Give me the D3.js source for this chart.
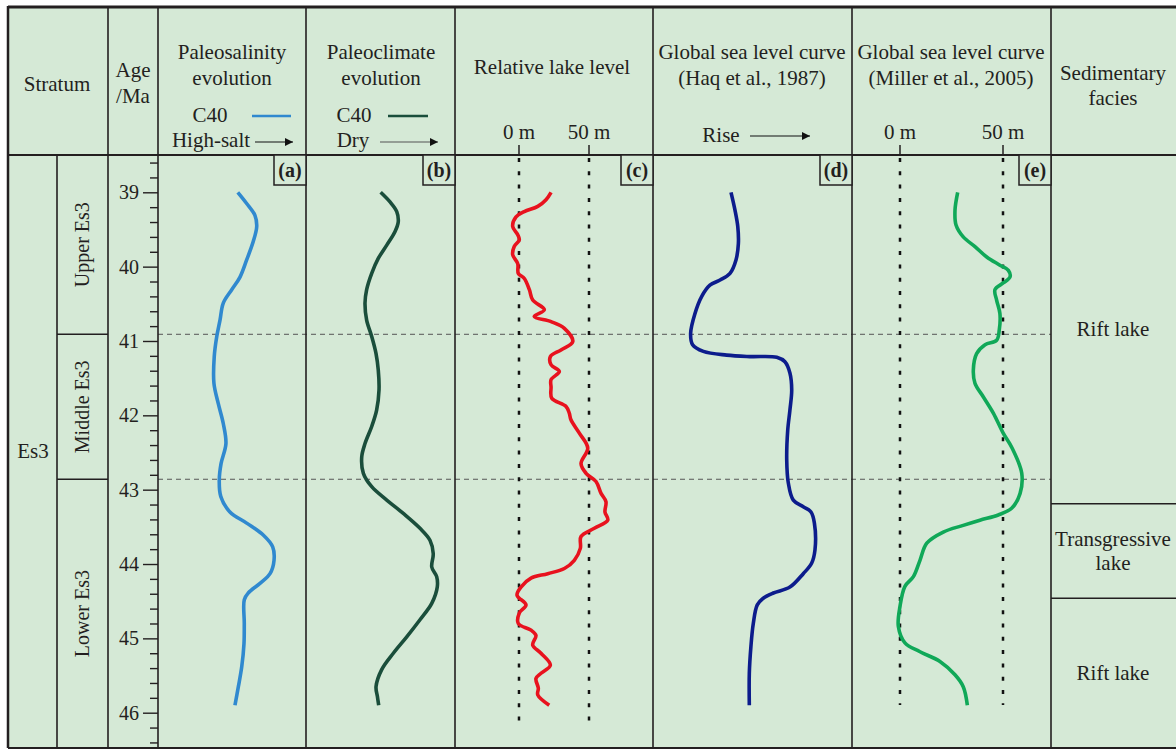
<!DOCTYPE html>
<html lang="en">
<head>
  <meta charset="UTF-8">
  <title>Es3 lake level chart</title>
  <style>
    body { margin: 0; background: #fff; }
    text { font-family: "Liberation Serif", "Times New Roman", serif; fill: #231f20; }
  </style>
</head>
<body>
<div id="chart"></div>
<script src="https://d3js.org/d3.v7.js"></script>
<script type="text/javascript">

  // ages (Ma) and values for each curve
  var salinityAge = [39.00, 39.15, 39.31, 39.46, 39.66, 39.91, 40.14, 40.31, 40.49, 40.72, 40.94, 41.21, 41.57, 41.84, 42.11, 42.38, 42.65, 42.87, 43.09, 43.30, 43.45, 43.61, 43.77, 43.95, 44.13, 44.26, 44.39, 44.48, 44.80, 45.07, 45.38, 45.65, 45.90];
  var salinityVal = [53.9, 59.9, 65.5, 66.7, 64.4, 59.9, 55.4, 49.8, 44.1, 41.9, 39.7, 38.0, 37.8, 40.7, 44.1, 45.9, 42.6, 41.4, 42.4, 48.6, 59.9, 71.1, 77.5, 78.4, 75.7, 68.9, 61.0, 58.3, 58.3, 58.1, 56.6, 54.3, 52.0];

  var climateAge = [39.00, 39.13, 39.26, 39.40, 39.53, 39.71, 39.89, 40.09, 40.31, 40.49, 40.72, 40.94, 41.17, 41.39, 41.66, 41.93, 42.15, 42.38, 42.56, 42.78, 42.96, 43.14, 43.32, 43.52, 43.68, 43.86, 44.04, 44.17, 44.31, 44.53, 44.75, 44.98, 45.20, 45.42, 45.65, 45.78, 45.90];
  var climateVal = [50.1, 56.4, 60.9, 61.9, 59.7, 54.2, 48.5, 44.1, 40.7, 39.6, 40.7, 44.1, 47.0, 48.5, 49.0, 47.4, 44.1, 39.6, 37.4, 38.5, 44.1, 54.2, 65.3, 76.5, 83.2, 85.4, 84.4, 87.7, 88.1, 84.4, 76.5, 67.6, 58.6, 50.8, 47.0, 47.9, 48.8];

  var lakeAge = [39.00, 39.10, 39.19, 39.26, 39.33, 39.46, 39.57, 39.64, 39.73, 39.84, 39.96, 40.09, 40.16, 40.31, 40.45, 40.58, 40.67, 40.74, 40.83, 41.01, 41.12, 41.21, 41.32, 41.41, 41.52, 41.62, 41.77, 41.88, 41.97, 42.06, 42.24, 42.44, 42.65, 42.78, 42.89, 43.05, 43.16, 43.30, 43.41, 43.52, 43.63, 43.79, 43.95, 44.06, 44.13, 44.19, 44.31, 44.42, 44.55, 44.66, 44.80, 44.89, 44.96, 45.09, 45.20, 45.36, 45.47, 45.54, 45.67, 45.76, 45.90];
  var lakeVal = [22.9, 19.3, 13.4, 3.8, -2.1, -4.5, -0.9, 0.2, -3.4, -4.5, -0.9, -0.5, 3.8, 7.4, 9.8, 18.1, 10.9, 22.9, 32.4, 38.4, 30.0, 22.4, 22.9, 28.8, 22.9, 22.9, 23.4, 33.6, 35.9, 37.1, 43.1, 49.1, 44.3, 47.9, 55.0, 58.6, 62.1, 61.4, 63.4, 53.8, 44.3, 43.8, 39.5, 32.4, 20.5, 8.6, 1.4, -1.4, 5.0, 0.2, -0.5, 8.6, 12.1, 9.8, 15.7, 22.4, 15.7, 12.1, 13.8, 13.4, 21.6];

  var haqAge = [39.00, 39.24, 39.46, 39.69, 39.91, 40.09, 40.18, 40.25, 40.40, 40.63, 40.90, 41.05, 41.14, 41.19, 41.21, 41.22, 41.28, 41.43, 41.66, 41.93, 42.20, 42.60, 42.91, 43.14, 43.23, 43.30, 43.45, 43.81, 43.99, 44.13, 44.31, 44.39, 44.46, 44.55, 44.80, 45.11, 45.47, 45.90];
  var haqVal = [39.2, 41.2, 42.6, 42.9, 41.7, 38.7, 33.7, 28.6, 24.5, 21.1, 18.9, 19.9, 25.3, 37.0, 48.7, 62.2, 66.3, 68.8, 69.7, 68.8, 67.7, 67.2, 68.0, 70.5, 75.5, 79.4, 81.1, 81.4, 79.7, 75.5, 68.8, 60.5, 55.4, 52.4, 50.4, 49.2, 48.4, 48.4];

  var millerAge = [39.00, 39.24, 39.44, 39.60, 39.73, 39.87, 39.98, 40.05, 40.14, 40.22, 40.31, 40.45, 40.63, 40.85, 40.99, 41.05, 41.17, 41.39, 41.57, 41.75, 41.97, 42.24, 42.44, 42.78, 43.05, 43.25, 43.34, 43.41, 43.48, 43.57, 43.72, 43.95, 44.17, 44.30, 44.57, 44.84, 45.06, 45.18, 45.31, 45.49, 45.65, 45.90];
  var millerVal = [28.0, 26.7, 27.2, 30.7, 36.4, 42.1, 48.5, 52.6, 53.4, 50.1, 46.1, 46.9, 48.5, 48.2, 46.9, 41.3, 37.2, 35.6, 36.4, 40.4, 45.3, 50.1, 54.4, 59.1, 58.3, 54.2, 47.7, 38.8, 30.7, 21.0, 13.0, 9.7, 6.5, 2.4, 0.0, -0.8, 2.4, 9.7, 19.4, 26.7, 30.7, 32.7];

  var ageTicks = [39, 40, 41, 42, 43, 44, 45, 46];
  var boundaryAges = [40.91, 42.86];        // Upper/Middle, Middle/Lower
  var faciesAges = [43.19, 44.46];
  var strata = ["Upper Es3", "Middle Es3", "Lower Es3"];
  var facies = [["Rift lake"], ["Transgressive", "lake"], ["Rift lake"]];
  var meterTicks = [0, 50];

  var w = 1176, h = 750;
  var yTop = 155, yBot = 748;
  var bg = "#d5e9d6", ink = "#231f20";
  var fs = 21;

  var svg = d3.select("#chart").append("svg")
      .attr("width", w).attr("height", h);

  svg.append("rect").attr("x", 8).attr("y", 7).attr("width", w - 8).attr("height", h - 9)
      .attr("fill", bg);

  var y = d3.scaleLinear().domain([39, 46]).range([192.3, 712.7]);

  // panel columns
  var panels = [
    {id: "a", x0: 158, x1: 306, dom: [0, 100], age: salinityAge, val: salinityVal, color: "#3089cf"},
    {id: "b", x0: 306, x1: 455, dom: [0, 100], age: climateAge, val: climateVal, color: "#1a4e3b"},
    {id: "c", x0: 455, x1: 653, dom: [-45.7, 95.7], age: lakeAge, val: lakeVal, color: "#e8121e"},
    {id: "d", x0: 653, x1: 852, dom: [0, 100], age: haqAge, val: haqVal, color: "#0c1c8c"},
    {id: "e", x0: 852, x1: 1051, dom: [-23.3, 73.3], age: millerAge, val: millerVal, color: "#10a858"}
  ];
  panels.forEach(p => {
    p.x = d3.scaleLinear().domain(p.dom).range([p.x0, p.x1]);
  });

  // dashed boundary lines across panels
  svg.selectAll("line.bound").data(boundaryAges).enter().append("line")
      .attr("x1", 158).attr("x2", 1051)
      .attr("y1", d => y(d)).attr("y2", d => y(d))
      .attr("stroke", "#555").attr("stroke-width", 1).attr("stroke-dasharray", "5,4");

  // dotted reference lines (c) and (e)
  [[panels[2], 727], [panels[4], 705]].forEach(([p, yEnd]) => {
    meterTicks.forEach(m => {
      svg.append("line")
          .attr("x1", p.x(m)).attr("x2", p.x(m))
          .attr("y1", yTop + 3).attr("y2", yEnd)
          .attr("stroke", "#111").attr("stroke-width", 2.5).attr("stroke-dasharray", "4,9.3");
      svg.append("line")
          .attr("x1", p.x(m)).attr("x2", p.x(m))
          .attr("y1", yTop - 10).attr("y2", yTop)
          .attr("stroke", ink).attr("stroke-width", 1.5);
      svg.append("text")
          .attr("x", p.x(m)).attr("y", 139)
          .attr("text-anchor", "middle").style("font-size", fs + "px")
          .text(m + " m");
    });
  });

  // curves
  var line = d3.line().curve(d3.curveCatmullRom.alpha(0.5));
  panels.forEach(p => {
    var pts = p.age.map((a, i) => [p.x(p.val[i]), y(a)]);
    svg.append("path")
        .attr("d", line(pts))
        .attr("fill", "none")
        .attr("stroke", p.color)
        .attr("stroke-width", 3.6)
        .attr("stroke-linejoin", "round");
  });

  // grid lines
  var grid = svg.append("g").attr("stroke", ink).attr("fill", "none");
  [57, 108, 158, 306, 455, 653, 852, 1051].forEach(x => {
    grid.append("line").attr("x1", x).attr("x2", x)
        .attr("y1", x === 57 ? yTop : 7).attr("y2", yBot)
        .attr("stroke-width", 1.6);
  });
  grid.append("line").attr("x1", 8).attr("x2", w).attr("y1", yTop).attr("y2", yTop).attr("stroke-width", 2);
  grid.append("line").attr("x1", 8).attr("x2", w).attr("y1", 7).attr("y2", 7).attr("stroke-width", 3);
  grid.append("line").attr("x1", 8).attr("x2", w).attr("y1", yBot).attr("y2", yBot).attr("stroke-width", 2);
  grid.append("line").attr("x1", 8).attr("x2", 8).attr("y1", 6).attr("y2", yBot).attr("stroke-width", 2.5);
  boundaryAges.forEach(a => {
    grid.append("line").attr("x1", 57).attr("x2", 108).attr("y1", y(a)).attr("y2", y(a)).attr("stroke-width", 1.4);
  });
  faciesAges.forEach(a => {
    grid.append("line").attr("x1", 1051).attr("x2", w).attr("y1", y(a)).attr("y2", y(a)).attr("stroke-width", 1.4);
  });

  // age axis
  var minor = d3.range(38.6, 46.45, 0.2).filter(v => Math.abs(v - Math.round(v)) > 0.05);
  svg.append("g").attr("transform", "translate(158,0)")
      .call(d3.axisLeft(y).tickValues(minor).tickSize(8).tickFormat(""))
      .call(g => g.select(".domain").remove())
      .selectAll("line").attr("stroke", ink).attr("stroke-width", 1.4);
  var ax = svg.append("g").attr("transform", "translate(158,0)")
      .call(d3.axisLeft(y).tickValues(ageTicks).tickSize(15).tickPadding(4).tickFormat(d3.format("d")))
      .call(g => g.select(".domain").remove());
  ax.selectAll("line").attr("stroke", ink).attr("stroke-width", 1.4);
  ax.selectAll("text").style("font-size", "20px").style("font-family", "Liberation Serif").attr("fill", ink);

  // panel tags
  panels.forEach(p => {
    svg.append("rect").attr("x", p.x1 - 32).attr("y", yTop).attr("width", 32).attr("height", 30)
        .attr("fill", bg).attr("stroke", ink).attr("stroke-width", 1.5);
    svg.append("text").attr("x", p.x1 - 16).attr("y", yTop + 22)
        .attr("text-anchor", "middle").style("font-size", "20px").style("font-weight", "bold")
        .text("(" + p.id + ")");
  });

  // header text
  function label(x, yy, s, size) {
    return svg.append("text").attr("x", x).attr("y", yy).attr("text-anchor", "middle")
        .style("font-size", (size || fs) + "px").text(s);
  }
  label(57, 91, "Stratum");
  label(133, 77, "Age");
  label(133, 103, "/Ma");
  label(232, 59, "Paleosalinity");
  label(232, 85, "evolution");
  label(210, 122, "C40");
  label(211, 147, "High-salt");
  label(381, 59, "Paleoclimate");
  label(381, 85, "evolution");
  label(354, 122, "C40");
  label(353, 147, "Dry");
  label(552, 74, "Relative lake level");
  label(752, 59, "Global sea level curve");
  label(752, 85, "(Haq et al., 1987)");
  label(721, 142, "Rise");
  label(951, 59, "Global sea level curve");
  label(951, 85, "(Miller et al., 2005)");
  label(1113, 80, "Sedimentary");
  label(1113, 105, "facies");

  // legend swatches and arrows
  svg.append("line").attr("x1", 252).attr("x2", 291).attr("y1", 116).attr("y2", 116)
      .attr("stroke", panels[0].color).attr("stroke-width", 2.5);
  svg.append("line").attr("x1", 388).attr("x2", 428).attr("y1", 116).attr("y2", 116)
      .attr("stroke", panels[1].color).attr("stroke-width", 2.5);
  var defs = svg.append("defs");
  defs.append("marker").attr("id", "arr").attr("viewBox", "0 0 10 10")
      .attr("refX", 10).attr("refY", 5).attr("markerWidth", 8).attr("markerHeight", 8)
      .attr("markerUnits", "userSpaceOnUse").attr("orient", "auto")
      .append("path").attr("d", "M0,0 L10,5 L0,10 Z").attr("fill", "#111");
  [[255, 295, 142, "#111"], [380, 440, 142, "#555"], [750, 812, 136, "#111"]].forEach(([x1, x2, yy, c]) => {
    svg.append("line").attr("x1", x1).attr("x2", x2 - 2).attr("y1", yy).attr("y2", yy)
        .attr("stroke", c).attr("stroke-width", 1.2).attr("marker-end", "url(#arr)");
  });

  // stratum labels
  label(33, 458, "Es3");
  var strataBounds = [yTop, y(boundaryAges[0]), y(boundaryAges[1]), yBot];
  strata.forEach((s, i) => {
    var cy = (strataBounds[i] + strataBounds[i + 1]) / 2;
    svg.append("text").attr("transform", `translate(89,${cy}) rotate(-90)`)
        .attr("text-anchor", "middle").style("font-size", "20px").text(s);
  });

  // facies labels
  var faciesBounds = [yTop, y(faciesAges[0]), y(faciesAges[1]), yBot];
  facies.forEach((lines, i) => {
    var cy = (faciesBounds[i] + faciesBounds[i + 1]) / 2;
    lines.forEach((s, j) => {
      label(1113, cy + 7 + (j - (lines.length - 1) / 2) * 24, s);
    });
  });

</script>
</body>
</html>
